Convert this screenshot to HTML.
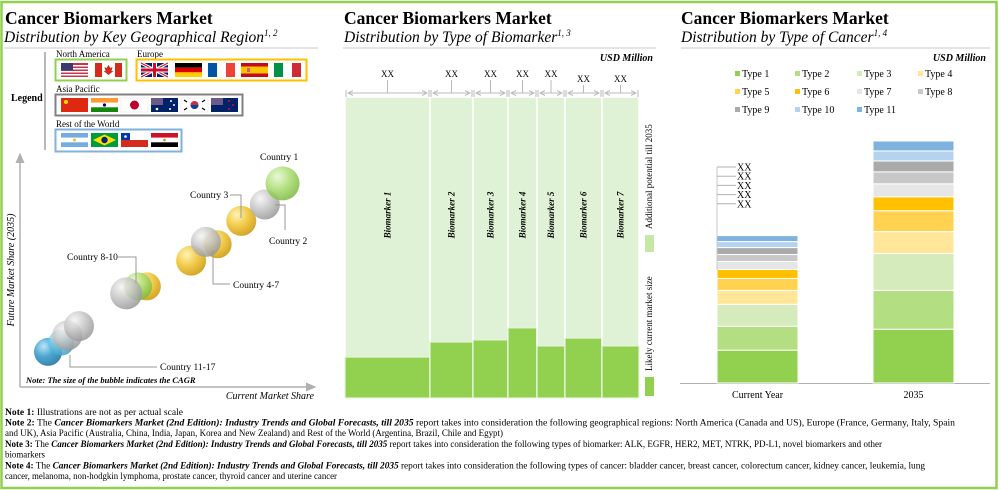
<!DOCTYPE html>
<html><head><meta charset="utf-8">
<style>
html,body{margin:0;padding:0;background:#fff;}
svg{display:block;font-family:"Liberation Serif",serif;}
</style></head>
<body>
<svg id="root" width="1000" height="490" viewBox="0 0 1000 490" xmlns="http://www.w3.org/2000/svg">
<defs>
  <radialGradient id="gGreen" cx="0.35" cy="0.3" r="0.75"><stop offset="0" stop-color="#e6f7cf"/><stop offset="0.5" stop-color="#a9dc6f"/><stop offset="1" stop-color="#78b83c"/></radialGradient>
  <radialGradient id="gGray" cx="0.35" cy="0.3" r="0.75"><stop offset="0" stop-color="#f4f4f4"/><stop offset="0.5" stop-color="#c4c4c4"/><stop offset="1" stop-color="#959595"/></radialGradient>
  <radialGradient id="gYellow" cx="0.35" cy="0.3" r="0.75"><stop offset="0" stop-color="#fff1a8"/><stop offset="0.5" stop-color="#f0c22c"/><stop offset="1" stop-color="#c99400"/></radialGradient>
  <radialGradient id="gLBlue" cx="0.35" cy="0.3" r="0.75"><stop offset="0" stop-color="#d5f1fb"/><stop offset="0.5" stop-color="#6cc6e6"/><stop offset="1" stop-color="#3a9cc2"/></radialGradient>
  <radialGradient id="gBlue" cx="0.35" cy="0.3" r="0.75"><stop offset="0" stop-color="#aee0f5"/><stop offset="0.5" stop-color="#2a98c9"/><stop offset="1" stop-color="#176e99"/></radialGradient>
  <marker id="arrowG" markerWidth="8" markerHeight="8" refX="4" refY="4" orient="auto"><path d="M0,1 L7,4 L0,7 z" fill="#b0b0b0"/></marker>
  <marker id="arrS" markerWidth="6" markerHeight="6" refX="5" refY="3" orient="auto"><path d="M0,0.5 L5,3 L0,5.5" fill="none" stroke="#b8b8b8" stroke-width="1"/></marker>
</defs>

<rect x="1.5" y="2" width="995" height="486" fill="none" stroke="#92d050" stroke-width="2.5"/>

<g>
  <text x="5" y="24" font-size="17.5" font-weight="bold">Cancer Biomarkers Market</text>
  <text x="4" y="42" font-size="15.5" font-style="italic">Distribution by Key Geographical Region<tspan font-size="9" dy="-6">1, 2</tspan></text>
  <line x1="4" y1="48" x2="318" y2="48" stroke="#c8c8c8"/>
</g>
<g>
  <text x="344" y="24" font-size="17.5" font-weight="bold">Cancer Biomarkers Market</text>
  <text x="344" y="42" font-size="15.5" font-style="italic">Distribution by Type of Biomarker<tspan font-size="9" dy="-6">1, 3</tspan></text>
  <line x1="343" y1="48" x2="656" y2="48" stroke="#c8c8c8"/>
  <text x="653" y="61" font-size="10" font-weight="bold" font-style="italic" text-anchor="end">USD Million</text>
</g>
<g>
  <text x="681" y="24" font-size="17.5" font-weight="bold">Cancer Biomarkers Market</text>
  <text x="681" y="42" font-size="15.5" font-style="italic">Distribution by Type of Cancer<tspan font-size="9" dy="-6">1, 4</tspan></text>
  <line x1="681" y1="48" x2="990" y2="48" stroke="#c8c8c8"/>
  <text x="986" y="61" font-size="10" font-weight="bold" font-style="italic" text-anchor="end">USD Million</text>
</g>

<g>
  <text x="11" y="101" font-size="10" font-weight="bold">Legend</text>
  <line x1="45" y1="52" x2="45" y2="150" stroke="#a0a0a0" stroke-width="1.5"/>
  <text x="56" y="57" font-size="9">North America</text>
  <text x="137" y="57" font-size="9">Europe</text>
  <text x="56" y="92" font-size="9">Asia Pacific</text>
  <text x="56" y="127" font-size="9">Rest of the World</text>
  <rect x="55.5" y="59.5" width="71" height="21" fill="none" stroke="#92d050" stroke-width="2"/>
  <rect x="136.5" y="59.5" width="170" height="21" fill="none" stroke="#ffc000" stroke-width="2"/>
  <rect x="55.5" y="94.5" width="187" height="21" fill="none" stroke="#808080" stroke-width="2"/>
  <rect x="55.5" y="129.5" width="126" height="22" fill="none" stroke="#7fb2dd" stroke-width="2"/>
  <g><rect x="61" y="63" width="27" height="14" fill="#c8344a"/><rect x="61" y="65" width="27" height="1.5" fill="#fff"/><rect x="61" y="68" width="27" height="1.5" fill="#fff"/><rect x="61" y="71" width="27" height="1.5" fill="#fff"/><rect x="61" y="74" width="27" height="1.5" fill="#fff"/><rect x="61" y="63" width="12" height="7.5" fill="#3c3b6e"/></g>
  <g><rect x="95" y="63" width="27" height="14" fill="#fff"/><rect x="95" y="63" width="7" height="14" fill="#d52b1e"/><rect x="115" y="63" width="7" height="14" fill="#d52b1e"/><path d="M108.5,65 l2,3 2,-1 -1,4 2,0 -5,4 -5,-4 2,0 -1,-4 2,1z" fill="#d52b1e"/></g>
  <g><rect x="141" y="63" width="27" height="14" fill="#012169"/><path d="M141,63 L168,77 M168,63 L141,77" stroke="#fff" stroke-width="3"/><path d="M141,63 L168,77 M168,63 L141,77" stroke="#c8102e" stroke-width="1"/><rect x="152" y="63" width="5" height="14" fill="#fff"/><rect x="141" y="67.5" width="27" height="5" fill="#fff"/><rect x="153" y="63" width="3" height="14" fill="#c8102e"/><rect x="141" y="68.5" width="27" height="3" fill="#c8102e"/></g>
  <g><rect x="175" y="63" width="27" height="4.7" fill="#000"/><rect x="175" y="67.7" width="27" height="4.7" fill="#dd0000"/><rect x="175" y="72.3" width="27" height="4.7" fill="#ffce00"/></g>
  <g><rect x="208" y="63" width="9" height="14" fill="#0055a4"/><rect x="217" y="63" width="9" height="14" fill="#fff"/><rect x="226" y="63" width="9" height="14" fill="#ef4135"/></g>
  <g><rect x="241" y="63" width="27" height="14" fill="#c60b1e"/><rect x="241" y="66.5" width="27" height="7" fill="#ffc400"/><rect x="247" y="68" width="3" height="4" fill="#c66"/></g>
  <g><rect x="274" y="63" width="9" height="14" fill="#009246"/><rect x="283" y="63" width="9" height="14" fill="#fff"/><rect x="292" y="63" width="9" height="14" fill="#ce2b37"/></g>
  <g><rect x="61" y="98" width="27" height="14" fill="#de2910"/><circle cx="66" cy="102" r="2" fill="#ffde00"/></g>
  <g><rect x="91" y="98" width="27" height="4.7" fill="#ff9933"/><rect x="91" y="102.7" width="27" height="4.7" fill="#fff"/><rect x="91" y="107.3" width="27" height="4.7" fill="#138808"/><circle cx="104.5" cy="105" r="1.6" fill="#000080"/></g>
  <g><rect x="121" y="98" width="27" height="14" fill="#fff" stroke="#e0e0e0" stroke-width="0.5"/><circle cx="134.5" cy="105" r="4.5" fill="#bc002d"/></g>
  <g><rect x="151" y="98" width="27" height="14" fill="#012169"/><rect x="151" y="98" width="12" height="7" fill="#6b5a8a"/><circle cx="157" cy="109" r="1.3" fill="#fff"/><circle cx="171" cy="101" r="1" fill="#fff"/><circle cx="174" cy="105" r="1" fill="#fff"/><circle cx="170" cy="109" r="1" fill="#fff"/></g>
  <g><rect x="181" y="98" width="27" height="14" fill="#fff" stroke="#e0e0e0" stroke-width="0.5"/><circle cx="194.5" cy="105" r="4" fill="#cd2e3a"/><path d="M190.5,105 a4,4 0 0 0 8,0z" fill="#0047a0"/><path d="M184,100 l3,2 M184,110 l3,-2 M205,100 l-3,2 M205,110 l-3,-2" stroke="#000" stroke-width="1.2"/></g>
  <g><rect x="211" y="98" width="27" height="14" fill="#012169"/><rect x="211" y="98" width="12" height="7" fill="#6b5a8a"/><circle cx="229" cy="101" r="1" fill="#cc142b"/><circle cx="233" cy="105" r="1" fill="#cc142b"/><circle cx="229" cy="109" r="1" fill="#cc142b"/></g>
  <g><rect x="61" y="133" width="27" height="4.7" fill="#74acdf"/><rect x="61" y="137.7" width="27" height="4.7" fill="#fff"/><rect x="61" y="142.3" width="27" height="4.7" fill="#74acdf"/><circle cx="74.5" cy="140" r="1.4" fill="#f6b40e"/></g>
  <g><rect x="91" y="133" width="27" height="14" fill="#009c3b"/><path d="M93,140 L104.5,134.5 L116,140 L104.5,145.5z" fill="#ffdf00"/><circle cx="104.5" cy="140" r="3.2" fill="#002776"/></g>
  <g><rect x="121" y="133" width="27" height="7" fill="#fff"/><rect x="121" y="140" width="27" height="7" fill="#d52b1e"/><rect x="121" y="133" width="9" height="7" fill="#0039a6"/><circle cx="125.5" cy="136.5" r="1.3" fill="#fff"/></g>
  <g><rect x="151" y="133" width="27" height="4.7" fill="#ce1126"/><rect x="151" y="137.7" width="27" height="4.7" fill="#fff"/><rect x="151" y="142.3" width="27" height="4.7" fill="#000"/><circle cx="164.5" cy="140" r="1.3" fill="#c09300"/></g>
</g>

<g>
  <line x1="20" y1="387" x2="20" y2="157" stroke="#b0b0b0" stroke-width="1.5" marker-end="url(#arrowG)"/>
  <line x1="20" y1="387" x2="312" y2="387" stroke="#b0b0b0" stroke-width="1.5" marker-end="url(#arrowG)"/>
  <text transform="translate(14,270) rotate(-90)" font-size="10" font-style="italic" text-anchor="middle">Future Market Share (2035)</text>
  <text x="314" y="399" font-size="10" font-style="italic" text-anchor="end">Current Market Share</text>
  <text x="26" y="383" font-size="8.5" font-weight="bold" font-style="italic">Note: The size of the bubble indicates the CAGR</text>
</g>
<g id="bubbles"></g>
<g font-size="9.5" fill="#000">
  <text x="260" y="160">Country 1</text>
  <text x="190" y="198">Country 3</text>
  <polyline points="230,195 241,195 241,218" fill="none" stroke="#999"/>
  <text x="269" y="244">Country 2</text>
  <polyline points="275,205 285,205 285,230" fill="none" stroke="#999"/>
  <text x="67" y="260">Country 8-10</text>
  <polyline points="117,257 136,257 136,283" fill="none" stroke="#999"/>
  <text x="233" y="288">Country 4-7</text>
  <polyline points="213,250 213,284 230,284" fill="none" stroke="#999"/>
  <text x="160" y="370">Country 11-17</text>
  <polyline points="70,355 70,367 157,367" fill="none" stroke="#999"/>
</g>

<g id="biomarker-chart"></g>
<g>
  <rect x="645" y="235" width="9" height="17" fill="#c6e7a6"/>
  <text transform="translate(652,229) rotate(-90)" font-size="9">Additional potential till 2035</text>
  <rect x="645" y="377" width="9" height="19" fill="#92d050"/>
  <text transform="translate(652,371) rotate(-90)" font-size="9">Likely current market size</text>
</g>

<g id="cancer-legend"></g>
<g id="cancer-chart"></g>

<g font-size="9">
  <text x="5" y="415" textLength="178" lengthAdjust="spacingAndGlyphs"><tspan font-weight="bold">Note 1:</tspan> Illustrations are not as per actual scale</text>
  <text x="5" y="425.5" textLength="950" lengthAdjust="spacingAndGlyphs"><tspan font-weight="bold">Note 2:</tspan> The <tspan font-weight="bold" font-style="italic">Cancer Biomarkers Market (2nd Edition): Industry Trends and Global Forecasts, till 2035</tspan> report takes into consideration the following geographical regions: North America (Canada and US), Europe (France, Germany, Italy, Spain</text>
  <text x="5" y="436" textLength="498" lengthAdjust="spacingAndGlyphs">and UK), Asia Pacific (Australia, China, India, Japan, Korea and New Zealand) and Rest of the World (Argentina, Brazil, Chile and Egypt)</text>
  <text x="5" y="447" textLength="877" lengthAdjust="spacingAndGlyphs"><tspan font-weight="bold">Note 3:</tspan> The <tspan font-weight="bold" font-style="italic">Cancer Biomarkers Market (2nd Edition): Industry Trends and Global Forecasts, till 2035</tspan> report takes into consideration the following types of biomarker: ALK, EGFR, HER2, MET, NTRK, PD-L1, novel biomarkers and other</text>
  <text x="5" y="457.5" textLength="40" lengthAdjust="spacingAndGlyphs">biomarkers</text>
  <text x="5" y="468.5" textLength="920" lengthAdjust="spacingAndGlyphs"><tspan font-weight="bold">Note 4:</tspan> The <tspan font-weight="bold" font-style="italic">Cancer Biomarkers Market (2nd Edition): Industry Trends and Global Forecasts, till 2035</tspan> report takes into consideration the following types of cancer: bladder cancer, breast cancer, colorectum cancer, kidney cancer, leukemia, lung</text>
  <text x="5" y="479" textLength="332" lengthAdjust="spacingAndGlyphs">cancer, melanoma, non-hodgkin lymphoma, prostate cancer, thyroid cancer and uterine cancer</text>
</g>
</svg>

<script>
// ---- Bubble chart data (share in %, axis 0-100) ----
const bubbleCurrent = [89, 83, 75, 63, 67, 58, 36, 40, 43, 20, 16, 14, 9.5];
const bubbleFuture  = [87, 78, 71, 62, 61, 54, 40, 43, 43, 26, 22, 19, 15];
const bubbleCagr    = [17, 15, 15, 15, 14, 15, 16, 14, 14, 15, 15, 13, 14];
const bubbleColor   = ["gGreen","gGray","gYellow","gGray","gYellow","gYellow","gGray","gGreen","gYellow","gGray","gGray","gLBlue","gBlue"];

// ---- Biomarker chart data ----
const biomarkers   = ["Biomarker 1","Biomarker 2","Biomarker 3","Biomarker 4","Biomarker 5","Biomarker 6","Biomarker 7"];
const bioWidth     = [85, 43, 35, 29, 28, 37, 37];
const bioCurrent   = [13.6, 18.6, 19.3, 23.3, 17.3, 19.9, 17.3];
const bioLabels    = ["XX","XX","XX","XX","XX","XX","XX"];

// ---- Cancer type chart data ----
const cancerCats   = ["Current Year","2035"];
const cancerTypes  = ["Type 1","Type 2","Type 3","Type 4","Type 5","Type 6","Type 7","Type 8","Type 9","Type 10","Type 11"];
const cancerCurrent= [33, 24, 22, 14, 12, 9, 8, 7, 7, 6, 6];
const cancer2035   = [54, 39, 37, 22, 21, 14, 13, 12, 11, 10, 10];
const cancerColors = ["#92d050","#b3de82","#d5ebbc","#ffe699","#ffd34f","#ffc000","#e6e6e6","#c8c8c8","#aaaaaa","#b4d3ee","#7fb2dd"];
const calloutLabels= ["XX","XX","XX","XX","XX"];

const NS = "http://www.w3.org/2000/svg";
function mk(tag, attrs, parent){ const e=document.createElementNS(NS,tag); for(const k in attrs) e.setAttribute(k,attrs[k]); parent.appendChild(e); return e; }

(function(){
  const g=document.getElementById('bubbles');
  const sx=v=>20+v/100*295, sy=v=>387-v/100*234;
  for(let i=bubbleCurrent.length-1;i>=0;i--){
    const c=mk('circle',{cx:sx(bubbleCurrent[i]),cy:sy(bubbleFuture[i]),r:bubbleCagr[i],fill:`url(#${bubbleColor[i]})`,'fill-opacity':0.85},g);
    
    
  }
})();

(function(){
  const g=document.getElementById('biomarker-chart');
  const x0=345, x1=639, top=97, bot=398;
  const totW=bioWidth.reduce((a,b)=>a+b,0);
  const sw=w=>w/totW*(x1-x0), sy=v=>bot-v/100*(bot-top);
  let x=x0;
  biomarkers.forEach((name,i)=>{
    const w=sw(bioWidth[i]);
    const bg=mk('rect',{x:x,y:top,width:w,height:bot-top,fill:'#dff2d5',stroke:'#ffffff','stroke-width':1.5},g);
    
    
    const fg=mk('rect',{x:x,y:sy(bioCurrent[i]),width:w,height:bot-sy(bioCurrent[i]),fill:'#92d050',stroke:'#e6f3dc','stroke-width':1.2},g);
    
    
    const cx=x+w/2;
    const t=mk('text',{transform:`translate(${cx+3},${215}) rotate(-90)`,'font-size':9,'font-weight':'bold','font-style':'italic','text-anchor':'middle'},g);
    t.textContent=name;
    
    
    mk('line',{x1:x+1,y1:90,x2:x+1,y2:97,stroke:'#b8b8b8'},g);
    mk('line',{x1:x+w-1,y1:90,x2:x+w-1,y2:97,stroke:'#b8b8b8'},g);
    mk('line',{x1:cx,y1:93,x2:x+w-3,y2:93,stroke:'#b8b8b8','marker-end':'url(#arrS)'},g);
    mk('line',{x1:cx,y1:93,x2:x+3,y2:93,stroke:'#b8b8b8','marker-end':'url(#arrS)'},g);
    const low=(i>=5);
    mk('line',{x1:cx,y1:low?85:80,x2:cx,y2:93,stroke:'#b8b8b8'},g);
    const l=mk('text',{x:cx,y:low?82:77,'font-size':9,'text-anchor':'middle'},g);
    l.textContent=bioLabels[i];
    
    
    x+=w;
  });
})();

(function(){
  const g=document.getElementById('cancer-legend');
  const cols=[735,795,857,918], rows=[77,95,113];
  cancerTypes.forEach((t,i)=>{
    const cx=cols[i%4], cy=rows[Math.floor(i/4)];
    const s=mk('rect',{x:cx,y:cy-6,width:5,height:5,fill:cancerColors[i]},g);
    
    
    const tx=mk('text',{x:cx+7,y:cy,'font-size':10},g);
    tx.textContent=t;
    
    
  });
})();

(function(){
  const g=document.getElementById('cancer-chart');
  const base=383, scale=242/ cancer2035.reduce((a,b)=>a+b,0);
  const xs=[717,873], bw=81;
  mk('line',{x1:680,y1:base+0.5,x2:990,y2:base+0.5,stroke:'#b0b0b0'},g);
  [cancerCurrent,cancer2035].forEach((series,si)=>{
    let y=base;
    series.forEach((v,i)=>{
      const h=v*scale;
      const r=mk('rect',{x:xs[si],y:y-h,width:bw,height:h,fill:cancerColors[i],stroke:'#fff','stroke-width':1},g);
      
      
      y-=h;
    });
    const lb=mk('text',{x:xs[si]+bw/2,y:398,'font-size':10,'text-anchor':'middle'},g);
    lb.textContent=cancerCats[si];
    
    
  });
  mk('line',{x1:717,y1:167,x2:717,y2:270,stroke:'#c8c8c8'},g);
  calloutLabels.forEach((t,i)=>{
    const y=167+i*9.2;
    mk('line',{x1:717,y1:y,x2:736,y2:y,stroke:'#b0b0b0'},g);
    const tx=mk('text',{x:737,y:y+3.5,'font-size':10},g);
    tx.textContent=t;
    
    
  });
})();
</script>
</body></html>
